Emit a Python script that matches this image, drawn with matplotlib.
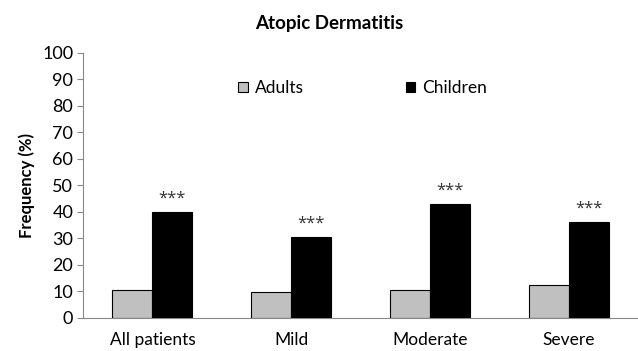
import matplotlib.pyplot as plt
import numpy as np

plt.rcParams['font.family'] = ['Lato', 'DejaVu Sans']

# frequency (%) per severity group
categories = ["All patients", "Mild", "Moderate", "Severe"]
adults = [10.6, 9.7, 10.6, 12.3]
children = [40.0, 30.7, 42.9, 36.1]
stars = ["***", "***", "***", "***"]

fig = plt.figure(figsize=(6.38, 3.51), dpi=100)
ax = fig.add_axes([83 / 638, 1 - 318 / 351, 555 / 638, (318 - 52.7) / 351])

x = np.arange(len(categories))
w = 0.288
ax.bar(x - w / 2, adults, w, color="#c0c0c0", edgecolor="black", linewidth=0.8, label="Adults")
ax.bar(x + w / 2, children, w, color="black", edgecolor="black", linewidth=0.8, label="Children")

# significance markers above the children bars
for xi, v, s in zip(x, children, stars):
    ax.text(xi + w / 2, v + 2.0, s, ha="center", va="bottom", fontsize=12,
            family="Open Sans", color="#333333")

ax.set_xlim(-0.5, 3.5)
ax.set_ylim(0, 100)
ax.set_yticks(range(0, 101, 10))
ax.set_xticks(x)
ax.set_xticklabels(categories, fontsize=12.5)
ax.tick_params(axis="x", length=0, pad=10)
ax.tick_params(axis="y", labelsize=13, length=4, color="#888888", pad=3)
for side in ["top", "right"]:
    ax.spines[side].set_visible(False)
for side in ["left", "bottom"]:
    ax.spines[side].set_color("#888888")
ax.set_ylabel("Frequency (%)", fontsize=12, fontweight="bold", labelpad=5)

ax.legend(loc="upper left", bbox_to_anchor=((238 - 83) / 555, 0.897), ncol=2, frameon=False,
          fontsize=12.5, handlelength=0.55, handleheight=0.55, handletextpad=0.4,
          columnspacing=5.9, borderpad=0, borderaxespad=0)

fig.text(329 / 638, 1 - 23 / 351, "Atopic Dermatitis", ha="center", va="center",
         fontsize=13.5, fontweight="bold")

fig.savefig("out.png", dpi=100)
